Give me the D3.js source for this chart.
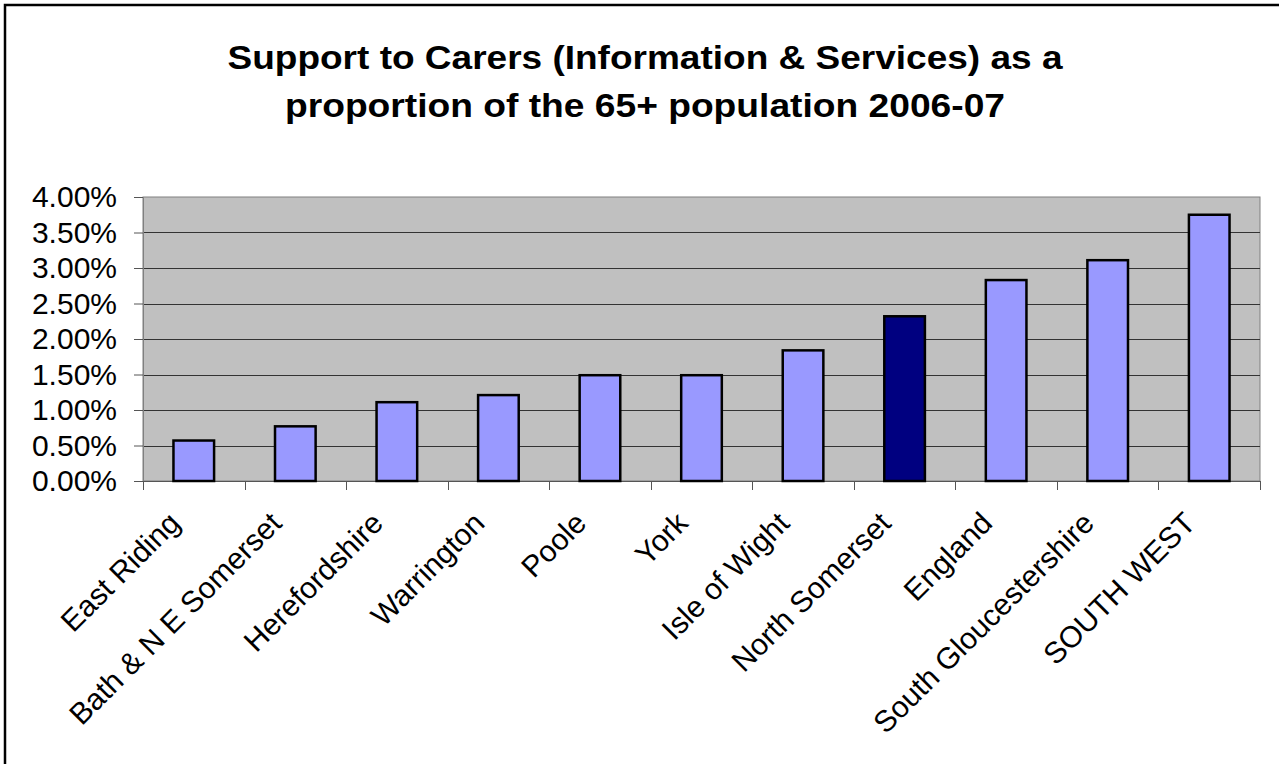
<!DOCTYPE html>
<html>
<head>
<meta charset="utf-8">
<script src="https://cdn.jsdelivr.net/npm/d3@7"></script>
<style>
  html, body { margin: 0; padding: 0; background: #fff; }
  svg { display: block; }
  text { font-family: Arial, "Liberation Sans", sans-serif; fill: #000; }
</style>
</head>
<body>
<svg id="chart" width="1279" height="764"></svg>
<script>
// Support to carers as a share of the 65+ population, 2006-07
const categories = [
  "East Riding", "Bath & N E Somerset", "Herefordshire", "Warrington", "Poole",
  "York", "Isle of Wight", "North Somerset", "England", "South Gloucestershire", "SOUTH WEST"
];
const values = [0.0057, 0.0077, 0.0111, 0.0121, 0.0149, 0.0149, 0.0184, 0.0232, 0.0283, 0.0311, 0.0375];
const highlighted = ["North Somerset"];
const yTicks = [0, 0.005, 0.01, 0.015, 0.02, 0.025, 0.03, 0.035, 0.04];
const titleLines = [
  "Support to Carers (Information & Services) as a",
  "proportion of the 65+ population 2006-07"
];
const titleWidths = [835, 720];

const W = 1279, H = 764;
const plot = { left: 143, right: 1260, top: 197, bottom: 481 };

const svg = d3.select("#chart");

// outer frame (top and left edges visible)
svg.append("rect")
  .attr("x", 5).attr("y", 5)
  .attr("width", W + 20).attr("height", H + 20)
  .attr("fill", "#fff").attr("stroke", "#000").attr("stroke-width", 2.5);

const xBand = d3.scaleBand().domain(categories).range([plot.left, plot.right]);
const y = d3.scaleLinear().domain([0, 0.04]).range([plot.bottom, plot.top]);

// plot background
svg.append("rect")
  .attr("x", plot.left).attr("y", plot.top)
  .attr("width", plot.right - plot.left).attr("height", plot.bottom - plot.top)
  .attr("fill", "#c0c0c0").attr("stroke", "#808080").attr("stroke-width", 1);

// gridlines
svg.append("g")
  .selectAll("line")
  .data(yTicks.filter(d => d > 0 && d < 0.04))
  .join("line")
  .attr("x1", plot.left).attr("x2", plot.right)
  .attr("y1", d => Math.round(y(d)) + 0.5).attr("y2", d => Math.round(y(d)) + 0.5)
  .attr("stroke", "#333").attr("stroke-width", 1);

// y axis
const yAxis = d3.axisLeft(y)
  .tickValues(yTicks)
  .tickFormat(d3.format(".2%"))
  .tickSize(9)
  .tickPadding(17);
const gy = svg.append("g").attr("transform", `translate(${plot.left},0)`).call(yAxis);
gy.select(".domain").attr("stroke", "#808080");
gy.selectAll(".tick line").attr("stroke", "#555");
gy.selectAll(".tick text").style("font-size", "30px").attr("fill", "#000");

// x axis: ticks at category boundaries
const bounds = categories.map(c => xBand(c)).concat([plot.right]);
svg.append("g")
  .selectAll("line")
  .data(bounds)
  .join("line")
  .attr("x1", d => Math.round(d) + 0.5).attr("x2", d => Math.round(d) + 0.5)
  .attr("y1", plot.bottom).attr("y2", plot.bottom + 9)
  .attr("stroke", "#555");
svg.append("line")
  .attr("x1", plot.left).attr("x2", plot.right)
  .attr("y1", plot.bottom + 0.5).attr("y2", plot.bottom + 0.5)
  .attr("stroke", "#555");

// bars (gap width 150%)
const barW = xBand.bandwidth() / 2.5;
svg.append("g")
  .selectAll("rect")
  .data(categories.map((c, i) => ({ c, v: values[i] })))
  .join("rect")
  .attr("x", d => xBand(d.c) + (xBand.bandwidth() - barW) / 2)
  .attr("width", barW)
  .attr("y", d => y(d.v))
  .attr("height", d => y(0) - y(d.v))
  .attr("fill", d => highlighted.includes(d.c) ? "#000080" : "#9999ff")
  .attr("stroke", "#000").attr("stroke-width", 2.5);

// category labels, rotated
svg.append("g")
  .selectAll("text")
  .data(categories)
  .join("text")
  .attr("transform", d => `translate(${xBand(d) + xBand.bandwidth() / 2 - 12},${plot.bottom + 44}) rotate(-45)`)
  .attr("text-anchor", "end")
  .style("font-size", "30px")
  .text(d => d);

// title
svg.append("g")
  .selectAll("text")
  .data(titleLines)
  .join("text")
  .attr("x", 645)
  .attr("y", (d, i) => 69 + i * 48)
  .attr("text-anchor", "middle")
  .attr("textLength", (d, i) => titleWidths[i])
  .attr("lengthAdjust", "spacingAndGlyphs")
  .style("font-size", "33px")
  .style("font-weight", "bold")
  .text(d => d);
</script>
</body>
</html>
